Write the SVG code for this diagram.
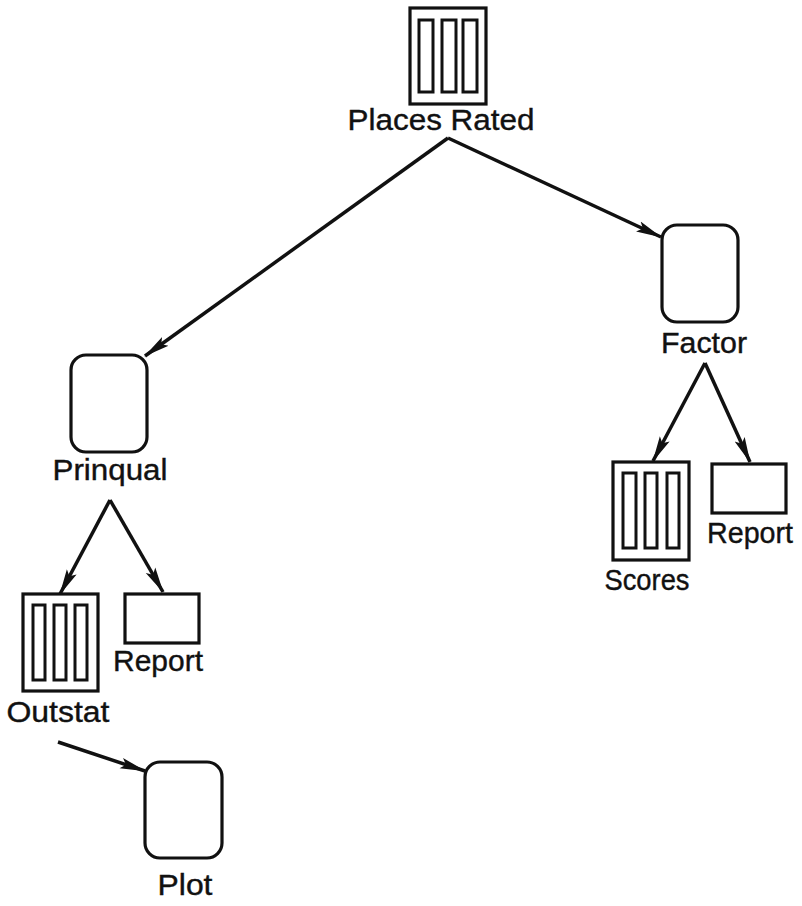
<svg xmlns="http://www.w3.org/2000/svg" width="802" height="906" viewBox="0 0 802 906">
<defs>
<style>
.box{fill:#fff;stroke:#111;stroke-width:3.2}
.bar{fill:#fff;stroke:#111;stroke-width:3}
.lbl{font-family:"Liberation Sans",Arial,sans-serif;font-size:30px;fill:#111;stroke:#111;stroke-width:0.4;text-anchor:middle}
.edge{stroke:#111;stroke-width:3.5;fill:none;marker-end:url(#ah)}
</style>
<marker id="ah" markerUnits="userSpaceOnUse" markerWidth="26" markerHeight="14" viewBox="0 0 26 14" refX="25" refY="7" orient="auto">
<path d="M0,1.5 L26,7 L0,12.5 L5,7 Z" fill="#111"/>
</marker>
</defs>
<rect width="802" height="906" fill="#fff"/>
<g id="connectors">
<line class="edge" x1="448" y1="138" x2="145" y2="356"/>
<line class="edge" x1="448" y1="138" x2="661" y2="237"/>
<line class="edge" x1="110" y1="500" x2="60" y2="594"/>
<line class="edge" x1="110" y1="500" x2="163" y2="592"/>
<line class="edge" x1="705" y1="363" x2="653" y2="461"/>
<line class="edge" x1="705" y1="363" x2="750" y2="462"/>
<line class="edge" x1="58" y1="742" x2="145" y2="771"/>
</g>
<g id="places-rated">
<rect class="box" x="410" y="8" width="76" height="96"/>
<rect class="bar" x="419" y="20" width="14" height="72"/>
<rect class="bar" x="442" y="20" width="14" height="72"/>
<rect class="bar" x="463" y="20" width="14" height="72"/>
<text class="lbl" x="441" y="130" textLength="187" lengthAdjust="spacingAndGlyphs">Places Rated</text>
</g>
<g id="prinqual">
<rect class="box" x="71" y="355" width="76" height="97" rx="15"/>
<text class="lbl" x="110" y="480" textLength="115" lengthAdjust="spacingAndGlyphs">Prinqual</text>
</g>
<g id="factor">
<rect class="box" x="662" y="225" width="76" height="97" rx="15"/>
<text class="lbl" x="704" y="353" textLength="86" lengthAdjust="spacingAndGlyphs">Factor</text>
</g>
<g id="outstat">
<rect class="box" x="23" y="594" width="75" height="97"/>
<rect class="bar" x="33" y="605" width="12" height="75"/>
<rect class="bar" x="54" y="605" width="12" height="75"/>
<rect class="bar" x="75" y="605" width="12" height="75"/>
<text class="lbl" x="58" y="722" textLength="103" lengthAdjust="spacingAndGlyphs">Outstat</text>
</g>
<g id="report-prinqual">
<rect class="box" x="125" y="594" width="74" height="49"/>
<text class="lbl" x="158" y="671" textLength="90" lengthAdjust="spacingAndGlyphs">Report</text>
</g>
<g id="scores">
<rect class="box" x="613" y="462" width="76" height="98"/>
<rect class="bar" x="623" y="473" width="13" height="75"/>
<rect class="bar" x="645" y="473" width="12" height="75"/>
<rect class="bar" x="667" y="473" width="12" height="75"/>
<text class="lbl" x="647" y="590" textLength="85" lengthAdjust="spacingAndGlyphs">Scores</text>
</g>
<g id="report-factor">
<rect class="box" x="712" y="464" width="74" height="49"/>
<text class="lbl" x="750" y="543" textLength="86" lengthAdjust="spacingAndGlyphs">Report</text>
</g>
<g id="plot">
<rect class="box" x="145" y="762" width="77" height="96" rx="15"/>
<text class="lbl" x="185" y="895" textLength="55" lengthAdjust="spacingAndGlyphs">Plot</text>
</g>
</svg>
